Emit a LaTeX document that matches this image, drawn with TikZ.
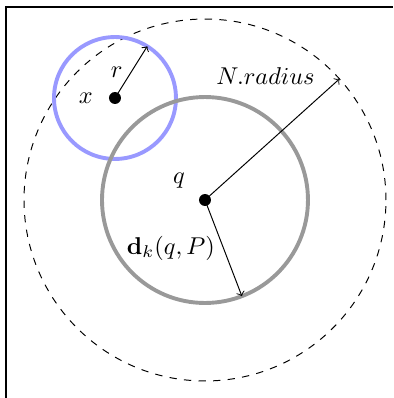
\documentclass[tikz,border=0pt]{standalone}
\usepackage{amsmath,amssymb}
\usetikzlibrary{positioning,calc}

\begin{document}
\begin{tikzpicture}[
  dot/.style={circle, fill=black, inner sep=0pt, minimum size=0.173cm},
  arr/.style={->},
  lbl/.style={font=\normalsize},
  nbhd/.style={dashed},
  ball/.style={ultra thick, draw=#1},
]

%% --- frame / bounding box ---
\useasboundingbox (-2.962,-2.861) rectangle (2.717,2.890);
\coordinate (fbl) at (-2.87,-2.861);
\coordinate (ftl) at (-2.87,2.79);
\coordinate (ftr) at (2.717,2.79);
\draw[thick] (fbl) -- (ftl) -- (ftr);

%% --- circles ---
\coordinate (q) at (0,0);
\coordinate (x) at (-1.3005,1.474);
\draw[nbhd] (q) circle (2.615);
\draw[ball=blue!40] (x) circle (0.881);
\draw[ball=black!40] (q) circle (1.488);

%% --- centres ---
\node[dot] (qdot) at (q) {};
\node[dot] (xdot) at (x) {};
\node[lbl, left=2.9pt of xdot] (xlab) {$x$};
\node[lbl] (qlab) at (-0.376,0.275) {$q$};

%% --- radii ---
\coordinate (rend) at ($(x)+(58:0.881)$);
\coordinate (nend) at (42:2.615);
\coordinate (dend) at (-69:1.488);
\draw[arr] (x) -- node[lbl, left] (rlab) {$r$} (rend);
\draw[arr] (q) -- node[lbl, pos=0.88, above left] (nlab) {$N.radius$} (nend);
\draw[arr] (q) -- node[lbl, left] (dlab) {$\mathbf{d}_k(q,P)$} (dend);

\end{tikzpicture}
\end{document}
